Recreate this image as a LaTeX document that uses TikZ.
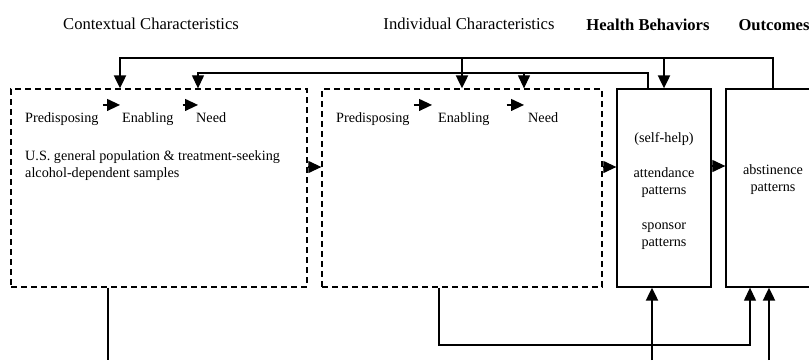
\documentclass[tikz,border=0pt]{standalone}
\usepackage{fontspec}
\setmainfont{Liberation Serif}
\usetikzlibrary{arrows.meta}

\tikzset{
  dashbox/.style={draw,dash pattern=on 6pt off 4pt,line width=1.3pt,minimum height=198pt,inner sep=0pt},
  solidbox/.style={draw,line width=1.3pt,minimum width=94pt,minimum height=198pt,inner sep=0pt},
  heading/.style={font=\fontsize{16.6}{20}\selectfont,anchor=base,inner sep=0pt},
  txt/.style={font=\fontsize{14.2}{17}\selectfont,anchor=base west,inner sep=0pt},
  ctxt/.style={txt,anchor=base},
  thinln/.style={line width=1.2pt},
  thickln/.style={line width=2pt},
  headarrow/.style={-{Triangle[length=13pt,width=12pt]}}
}

\begin{document}
\begin{tikzpicture}[x=1pt,y=-1pt]

            \useasboundingbox (0,0) rectangle (809,360);

            \node[heading] (hctx) at (151,29) {Contextual Characteristics};
            \node[heading] (hind) at (469,29) {Individual Characteristics};
            \node[heading,font=\fontsize{16.6}{20}\selectfont\bfseries] (hbeh) at (648,30) {Health Behaviors};
            \node[heading,font=\fontsize{16.6}{20}\selectfont\bfseries] (hout) at (774,30) {Outcomes};

            \node[dashbox,minimum width=296pt] (ctx) at (159,188) {};
            \node[dashbox,minimum width=280pt] (ind) at (462,188) {};
            \node[solidbox] (beh) at (664,188) {};
            \node[solidbox] (out) at (773,188) {};

            \node[txt] (pa) at (25,122) {Predisposing};
            \node[txt] (ea) at (122,122) {Enabling};
            \node[txt] (na) at (196,122) {Need};
            \node[txt] (sa) at (25,160) {U.S. general population \& treatment-seeking};
            \node[txt] (sb) at (25,177) {alcohol-dependent samples};

            \node[txt] (pb) at (336,122) {Predisposing};
            \node[txt] (eb) at (438,122) {Enabling};
            \node[txt] (nb) at (528,122) {Need};

            \node[ctxt] (selfhelp) at (664,142) {(self-help)};
            \node[ctxt] (att) at (664,177) {attendance};
            \node[ctxt] (attp) at (664,194) {patterns};
            \node[ctxt] (spo) at (664,229) {sponsor};
            \node[ctxt] (spop) at (664,246) {patterns};
            \node[ctxt] (abs) at (773,174) {abstinence};
            \node[ctxt] (absp) at (773,191) {patterns};

            \draw[thinln,headarrow] ([shift={(4pt,7pt)}]pa.north east) -- ([shift={(-2pt,7pt)}]ea.north west);
            \draw[thinln,headarrow] ([shift={(9pt,7pt)}]ea.north east) -- ([shift={(2pt,7pt)}]na.north west);
            \draw[thinln,headarrow] ([shift={(4pt,7pt)}]pb.north east) -- ([shift={(-6pt,7pt)}]eb.north west);
            \draw[thinln,headarrow] ([shift={(17pt,7pt)}]eb.north east) -- ([shift={(-4pt,7pt)}]nb.north west);

            \draw[thinln,headarrow] ([yshift=21pt]ctx.east) -- ([yshift=21pt]ind.west);
            \draw[thinln,headarrow] ([yshift=21pt]ind.east) -- ([yshift=21pt]beh.west);
            \draw[thinln,headarrow] ([yshift=22pt]beh.east) -- ([yshift=22pt]out.west);

            \coordinate (hi) at (120,58);
            \coordinate (lo) at (198,73);
            \draw[thickln,headarrow] (out.north) |- (hi) -- (hi |- ctx.north);
            \draw[thickln,headarrow] (ind.north |- hi) -- (ind.north);
            \draw[thickln,headarrow] (beh.north |- hi) -- (beh.north);
            \draw[thinln,headarrow] ([xshift=-16pt]beh.north) |- (lo) -- (lo |- ctx.north);
            \draw[thinln,headarrow] ([xshift=62pt]ind.north |- lo) -- ([xshift=62pt]ind.north);

            \coordinate (bot) at (108,360);
            \coordinate (loop) at (439,345);
            \draw[thinln] (ctx.south -| bot) -- (bot);
            \draw[thinln,headarrow] (ind.south -| loop) |- (loop -| 750,0) -- ([xshift=-23pt]out.south);
            \draw[thickln,headarrow] ([xshift=-12pt]beh.south |- bot) -- ([xshift=-12pt]beh.south);
            \draw[thickln,headarrow] ([xshift=-4pt]out.south |- bot) -- ([xshift=-4pt]out.south);

        \end{tikzpicture}
\end{document}
